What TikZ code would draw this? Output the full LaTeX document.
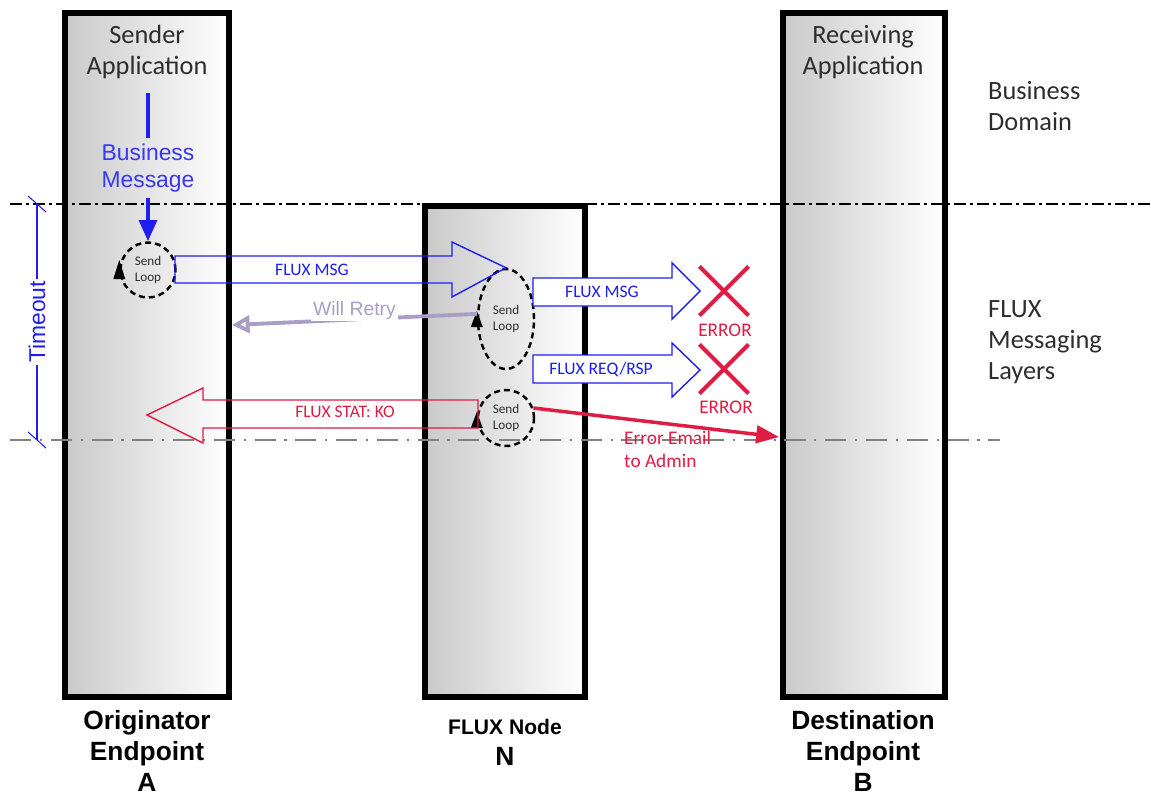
\documentclass[tikz,border=0pt]{standalone}
\usepackage{fontspec}
\setmainfont{Carlito}
\newfontfamily\arialf{Liberation Sans}
\usetikzlibrary{arrows.meta,shapes.geometric,shapes.misc}
\definecolor{fluxblue}{RGB}{30,30,240}
\definecolor{msgblue}{RGB}{55,55,245}
\definecolor{errred}{RGB}{222,28,68}
\definecolor{retry}{RGB}{168,158,198}
\definecolor{lbl}{RGB}{45,45,45}

\begin{document}
\begin{tikzpicture}[x=0.02cm,y=-0.02cm,
  lane/.style={draw=black,line width=3.4pt,left color=black!21,right color=white,inner sep=0pt},
  apptxt/.style={text=lbl,align=center,font=\fontsize{15}{18}\selectfont},
  sidetxt/.style={text=lbl,align=left,anchor=west,font=\fontsize{15}{17.6}\selectfont},
  endtxt/.style={align=center,font=\arialf\bfseries\fontsize{15}{17.6}\selectfont},
  loopnode/.style={ellipse,draw=black,line width=1.4pt,dash pattern=on 3.4pt off 2.3pt,align=center,inner sep=0pt,text=lbl,font=\fontsize{7.5}{9}\selectfont},
  looptip/.style={fill=black},
  fluxarrow/.style={draw=fluxblue,line width=0.8pt,line join=miter},
  fluxlbl/.style={text=fluxblue,font=\fontsize{10}{12}\selectfont},
  statarrow/.style={draw=errred,line width=0.8pt,line join=miter},
  errx/.style={cross out,draw=errred,line width=2.3pt,minimum size=0.9cm,inner sep=0pt},
  errlbl/.style={text=errred,font=\fontsize{11}{13}\selectfont},
  bizflow/.style={draw=fluxblue,line width=2.3pt},
  retryflow/.style={draw=retry,line width=2.2pt,-{Triangle[open,length=10pt,width=10pt]}},
  mailflow/.style={draw=errred,line width=2pt,-{Triangle[length=13pt,width=10pt]}},
  tmark/.style={draw=fluxblue,line width=0.6pt}]
\useasboundingbox(0,0)rectangle(1151,798);
% endpoint and node lanes
\node[lane,minimum width=3.28cm,minimum height=13.68cm](A)at(147,355){};
\node[lane,minimum width=3.2cm,minimum height=9.82cm](N)at(505,451.5){};
\node[lane,minimum width=3.24cm,minimum height=13.68cm](B)at(864,355){};
% layer borders
\coordinate(bl)at(10,204);\coordinate(br)at(1151,204);
\draw[line width=1.1pt,dash pattern=on 6.8pt off 2.3pt on 1.7pt off 2.3pt](bl)--(br);
\coordinate(tl)at(10,440);\coordinate(tr)at(1000,440);
\draw[gray,line width=0.6pt,dash pattern=on 12pt off 5pt on 1.2pt off 5pt](tl)--(tr);
% timeout
\coordinate(tTop)at(37,204);\coordinate(tBot)at(37,440);
\draw[tmark](tTop)--node[rotate=90,fill=white,inner sep=1pt,text=fluxblue,font=\arialf\fontsize{13}{15}\selectfont]{Timeout}(tBot);
\draw[tmark](tTop)++(-9,-8)--++(18,16);\draw[tmark](tBot)++(-9,-8)--++(18,16);
% texts
\node[apptxt](sendApp)at(147,52){Sender\\Application};
\node[apptxt](recvApp)at(863,52){Receiving\\Application};
\node[sidetxt](bizDom)at(982,106){Business\\Domain};
\node[sidetxt](fluxLay)at(982,342){FLUX\\Messaging\\Layers};
\node[endtxt](origLbl)at(147,751){Originator\\Endpoint\\A};
\node[endtxt](nodeLbl)at(505,742){{\fontsize{12}{17}\selectfont FLUX Node}\\N};
\node[endtxt](destLbl)at(863,751){Destination\\Endpoint\\B};
% send loops
\node[loopnode,minimum width=1.1cm,minimum height=1.1cm](loopA)at(148,270){Send\\Loop};
\node[loopnode,minimum width=1.12cm,minimum height=2cm](loopN1)at(506,319){Send\\Loop};
\node[loopnode,minimum width=1.12cm,minimum height=1.12cm](loopN2)at(506,418){Send\\Loop};
\fill[looptip](loopA.west)++(-6,9)--++(12,0)--++(-6,-19)--cycle;
\fill[looptip](loopN1.west)++(-6,8)--++(12,0)--++(-6,-16)--cycle;
\fill[looptip](loopN2.west)++(-6,10)--++(12,0)--++(-6,-16)--cycle;
% business message
\node[text=msgblue,align=center,font=\arialf\fontsize{13}{15.5}\selectfont](bizMsg)at(148,168){Business\\Message};
\coordinate(bizTop)at(148,93);
\draw[bizflow](bizTop)--(bizMsg);
\draw[bizflow,-{Triangle[length=12pt,width=10pt]}](bizMsg)--(loopA);
% flux messages
\draw[fluxarrow](175,256)--(452,256)--(452,242)--(loopN1.north)--(452,297)--(452,283)--(175,283)--cycle;
\node[fluxlbl](msgA)at(312,270){FLUX MSG};
\draw[fluxarrow,fill=white](533,278)--(672,278)--(672,263)--(700,291)--(672,319)--(672,306)--(533,306)--cycle;
\node[fluxlbl](msgN)at(602,292){FLUX MSG};
\draw[fluxarrow,fill=white](533,355)--(672,355)--(672,343)--(700,370)--(672,397)--(672,383)--(533,383)--cycle;
\node[fluxlbl](reqRsp)at(601,370){FLUX REQ/RSP};
\node[errx](x1)at(724,291){};\node[errlbl](err1)at(725,330){ERROR};
\node[errx](x2)at(724,369){};\node[errlbl](err2)at(726,407){ERROR};
% status back to originator
\draw[statarrow](478,400)--(203,400)--(203,388)--(147,415)--(203,443)--(203,428)--(478,428)--cycle;
\node[errlbl,font=\fontsize{10}{12}\selectfont](statKO)at(345,412){FLUX STAT: KO};
% retry
\coordinate(retryTip)at(232,325);
\draw[retryflow](loopN1.170)--node[pos=0.5,yshift=5pt,fill=white,inner sep=1pt,text=retry,font=\arialf\fontsize{11}{13}\selectfont]{Will Retry}(retryTip);
% error email
\coordinate(adminTip)at(779,437);
\draw[mailflow](loopN2.20)--(adminTip);
\node[errlbl,align=left,anchor=west,font=\fontsize{11}{13}\selectfont](mail)at(618,449.5){Error Email\\to Admin};
\end{tikzpicture}
\end{document}
